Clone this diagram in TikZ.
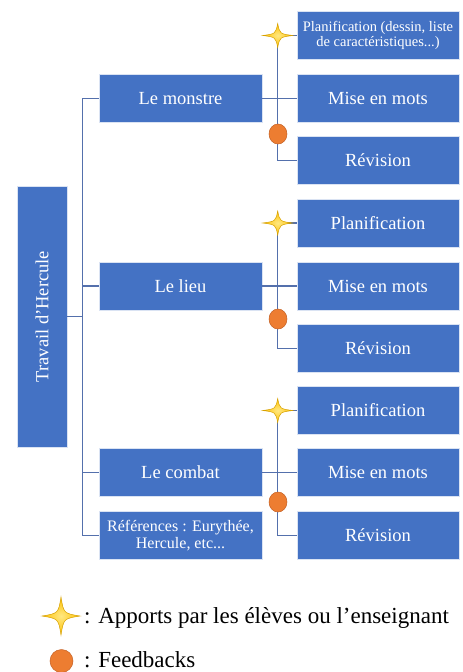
\documentclass[tikz,border=0pt]{standalone}
\usepackage{fontspec}
\setmainfont{Liberation Serif}
\newfontfamily\tnr{Liberation Serif}
\usetikzlibrary{shapes.geometric}
\definecolor{boxblue}{RGB}{68,114,196}
\definecolor{lineblue}{RGB}{84,112,172}
\definecolor{stargold}{RGB}{255,192,0}
\definecolor{starlight}{RGB}{255,232,130}
\definecolor{staredge}{RGB}{214,160,0}
\definecolor{dotorange}{RGB}{237,125,49}
\definecolor{dotedge}{RGB}{196,96,36}
\newcommand\fourstarat[3]{%
  \shadedraw[shift={(#1)}, draw=staredge, line width=0.5pt, inner color=starlight, outer color=stargold]
      (#2,0) .. controls (0.14*#2,0.14*#3) .. (0,#3)
      .. controls (-0.14*#2,0.14*#3) .. (-#2,0)
      .. controls (-0.14*#2,-0.14*#3) .. (0,-#3)
      .. controls (0.14*#2,-0.14*#3) .. (#2,0) -- cycle;}
\tikzset{
  bluebox/.style={rectangle, fill=boxblue, draw=white!80!boxblue, line width=0.6pt,
    text=white, inner sep=0pt, align=center, font=\tnr\fontsize{18.5}{20}\selectfont},
  catbox/.style={bluebox, minimum width=163pt, minimum height=48pt},
  stepbox/.style={bluebox, minimum width=162pt, minimum height=48pt},
  link/.style={draw=lineblue, line width=1.4pt},
  dot/.style={ellipse, fill=dotorange, draw=dotedge, line width=0.5pt,
    minimum width=18pt, minimum height=20pt, inner sep=0pt},
  legdot/.style={circle, fill=dotorange, draw=dotedge, line width=0.5pt,
    minimum size=23pt, inner sep=0pt},
  legtext/.style={anchor=base west, inner sep=0pt, font=\tnr\fontsize{23}{25}\selectfont}
}
\begin{document}
\begin{tikzpicture}[x=1pt,y=-1pt]
\useasboundingbox (0,0) rectangle (463,672);

% root
\node[bluebox, minimum width=50pt, minimum height=261pt] (root) at (42,316.5)
  {\rotatebox{90}{Travail d’Hercule}};

% categories
\node[catbox] (monstre) at (180.5,98.5) {Le monstre};
\node[catbox] (lieu) at (180.5,286) {Le lieu};
\node[catbox] (combat) at (180.5,472.5) {Le combat};
\node[catbox, font=\tnr\fontsize{16}{17}\selectfont] (refs) at (180.5,535.5)
  {Références : Eurythée,\\Hercule, etc...};

% steps
\node[stepbox, font=\tnr\fontsize{14.5}{15}\selectfont] (plan1) at (378,35.5)
  {Planification (dessin, liste\\de caractéristiques...)};
\node[stepbox] (mise1) at (378,98.5) {Mise en mots};
\node[stepbox] (rev1) at (378,160.5) {Révision};
\node[stepbox] (plan2) at (378,223) {Planification};
\node[stepbox] (mise2) at (378,286) {Mise en mots};
\node[stepbox] (rev2) at (378,348.5) {Révision};
\node[stepbox] (plan3) at (378,410.5) {Planification};
\node[stepbox] (mise3) at (378,472.5) {Mise en mots};
\node[stepbox] (rev3) at (378,535.5) {Révision};

% trunk connectors
\draw[link] (monstre.west) -- ++(-16,0) coordinate (ttop) |- (refs.west);
\draw[link] (lieu.west) -- (lieu.west -| ttop);
\draw[link] (combat.west) -- (combat.west -| ttop);
\draw[link] (root.east) -- (root.east -| ttop);

% group connectors
\draw[link] (monstre.east) -- (mise1.west);
\draw[link] (plan1.west) -- ++(-19,0) coordinate (s1) |- (rev1.west);
\draw[link] (lieu.east) -- (mise2.west);
\draw[link] (plan2.west) -- ++(-19,0) coordinate (s2) |- (rev2.west);
\draw[link] (combat.east) -- (mise3.west);
\draw[link] (plan3.west) -- ++(-19,0) coordinate (s3) |- (rev3.west);

% markers
\fourstarat{s1}{15}{12}
\fourstarat{s2}{15}{12}
\fourstarat{s3}{15}{12}
\node[dot] (fb1) at (278,134) {};
\node[dot] (fb2) at (278,319) {};
\node[dot] (fb3) at (278,502) {};

% legend
\coordinate (legstar) at (61,616);
\fourstarat{legstar}{19}{19}
\node[legdot] (fbleg) at (61.5,661) {};
\node[legtext] (leg1) at (84,623) {: Apports par les élèves ou l’enseignant};
\node[legtext] (leg2) at (84,667) {: Feedbacks};
\end{tikzpicture}
\end{document}
